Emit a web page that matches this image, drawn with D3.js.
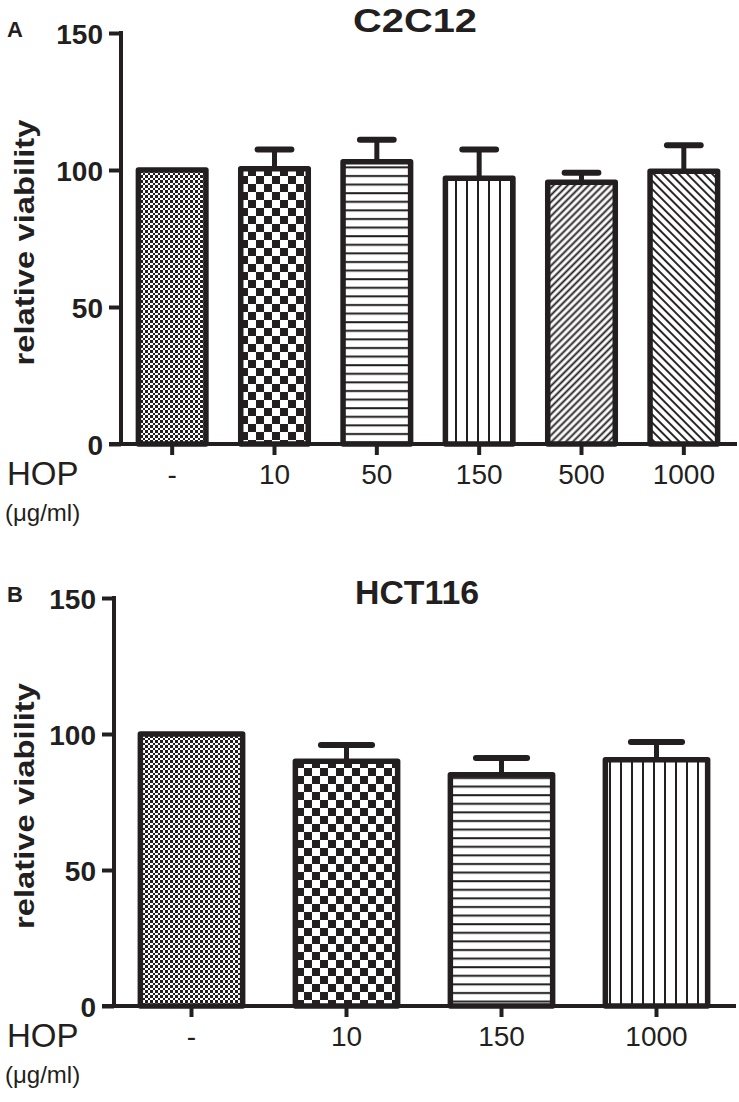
<!DOCTYPE html>
<html><head><meta charset="utf-8">
<script src="https://cdn.jsdelivr.net/npm/d3@7"></script>
<style>
html,body{margin:0;padding:0;background:#fff;}
text{font-family:"Liberation Sans", Arial, sans-serif; fill:#231f20;}
</style></head>
<body><svg id="c" width="739" height="1102"></svg>
<script>
// ---- data ----
const catsA = ["-", "10", "50", "150", "500", "1000"];
const meansA = [100, 100.5, 103, 97, 95.5, 99.5];
const errA = [0, 7, 8, 10.5, 3.5, 9.5];
const patA = ["fine", "coarse", "hlines", "vlines", "diagR", "diagL"];

const catsB = ["-", "10", "150", "1000"];
const meansB = [100, 90, 85, 90.5];
const errB = [0, 6, 6.2, 6.6];
const patB = ["fine", "coarse", "hlines", "vlines"];

const yTicks = [0, 50, 100, 150];
const ink = "#231f20";

const svg = d3.select("#c");
const defs = svg.append("defs");

function pat(id, w, h, draw, transform) {
  const p = defs.append("pattern").attr("id", id).attr("patternUnits", "userSpaceOnUse")
    .attr("width", w).attr("height", h);
  if (transform) p.attr("patternTransform", transform);
  p.append("rect").attr("width", w).attr("height", h).attr("fill", "#fff");
  draw(p);
}
pat("fine", 5, 5, p => {
  p.append("rect").attr("x", 0).attr("y", 0).attr("width", 2.5).attr("height", 2.5).attr("fill", ink).attr("shape-rendering", "crispEdges");
  p.append("rect").attr("x", 2.5).attr("y", 2.5).attr("width", 2.5).attr("height", 2.5).attr("fill", ink).attr("shape-rendering", "crispEdges");
});
pat("coarse", 16, 16, p => {
  p.append("rect").attr("x", 0).attr("y", 0).attr("width", 8).attr("height", 8).attr("fill", ink);
  p.append("rect").attr("x", 8).attr("y", 8).attr("width", 8).attr("height", 8).attr("fill", ink);
});
pat("hlines", 10, 8.6, p => {
  p.append("rect").attr("x", 0).attr("y", 3).attr("width", 10).attr("height", 2).attr("fill", ink);
});
pat("vlines", 11, 10, p => {
  p.append("rect").attr("x", 4).attr("y", 0).attr("width", 2).attr("height", 10).attr("fill", ink);
});
pat("diagR", 5, 10, p => {
  p.append("rect").attr("x", 1.5).attr("y", 0).attr("width", 1.9).attr("height", 10).attr("fill", ink);
}, "rotate(45)");
pat("diagL", 5.9, 10, p => {
  p.append("rect").attr("x", 2).attr("y", 0).attr("width", 1.9).attr("height", 10).attr("fill", ink);
}, "rotate(-45)");

function panel(cfg) {
  const g = svg.append("g");
  const x = d3.scaleBand().domain(cfg.cats).range([cfg.x0, cfg.x1]).paddingInner(0.34).paddingOuter(0.17);
  const y = d3.scaleLinear().domain([0, 150]).range([cfg.y0, cfg.y1]);

  // bars
  const bw = x.bandwidth();
  g.selectAll("rect.bar").data(cfg.cats).join("rect").attr("class", "bar")
    .attr("x", d => x(d)).attr("width", bw)
    .attr("y", (d, i) => y(cfg.means[i])).attr("height", (d, i) => y(0) - y(cfg.means[i]))
    .attr("fill", (d, i) => "url(#" + cfg.pats[i] + ")")
    .attr("stroke", ink).attr("stroke-width", 5.5).attr("stroke-linejoin", "round");

  // error bars
  const eb = cfg.cats.map((c, i) => ({c, m: cfg.means[i], e: cfg.errs[i]})).filter(d => d.e > 0);
  g.selectAll("line.stem").data(eb).join("line")
    .attr("x1", d => x(d.c) + bw / 2).attr("x2", d => x(d.c) + bw / 2)
    .attr("y1", d => y(d.m)).attr("y2", d => y(d.m + d.e))
    .attr("stroke", ink).attr("stroke-width", 5);
  g.selectAll("line.cap").data(eb).join("line")
    .attr("x1", d => x(d.c) + bw * 0.25).attr("x2", d => x(d.c) + bw * 0.75)
    .attr("y1", d => y(d.m + d.e)).attr("y2", d => y(d.m + d.e))
    .attr("stroke", ink).attr("stroke-width", 6).attr("stroke-linecap", "round");

  // y axis
  const ya = g.append("g").attr("transform", `translate(${cfg.x0},0)`)
    .call(d3.axisLeft(y).tickValues(yTicks).tickSize(12).tickSizeOuter(0).tickPadding(6));
  ya.select(".domain").remove();
  ya.selectAll(".tick line").attr("stroke", ink).attr("stroke-width", 4);
  ya.selectAll(".tick text").attr("font-size", 28).attr("font-weight", "bold")
    .attr("font-family", "Liberation Sans, Arial, sans-serif").attr("fill", ink).attr("dy", "0.36em");
  g.append("line").attr("x1", cfg.x0).attr("x2", cfg.x0).attr("y1", y(150) - 2).attr("y2", y(0))
    .attr("stroke", ink).attr("stroke-width", 4);

  // x axis
  const xa = g.append("g").attr("transform", `translate(0,${cfg.y0})`)
    .call(d3.axisBottom(x).tickSize(11).tickSizeOuter(0).tickPadding(9));
  xa.select(".domain").remove();
  xa.selectAll(".tick line").attr("stroke", ink).attr("stroke-width", 4);
  xa.selectAll(".tick text").attr("font-size", 28).attr("font-family", "Liberation Sans, Arial, sans-serif")
    .attr("fill", ink).attr("dy", "0.71em");
  g.append("line").attr("x1", cfg.x0 - 12).attr("x2", cfg.x1 + 2).attr("y1", cfg.y0).attr("y2", cfg.y0)
    .attr("stroke", ink).attr("stroke-width", 4);

  // labels
  g.append("text").attr("x", 7).attr("y", cfg.y1 + 4).attr("font-size", 22).attr("font-weight", "bold").text(cfg.letter);
  g.append("text").attr("x", cfg.titleX).attr("y", cfg.titleY).attr("text-anchor", "middle")
    .attr("font-size", 34).attr("font-weight", "bold")
    .attr("textLength", cfg.titleW).attr("lengthAdjust", "spacingAndGlyphs").text(cfg.title);
  const ly = (y(150) + y(0)) / 2 + 4;
  g.append("text").attr("transform", `translate(34,${ly}) rotate(-90)`).attr("text-anchor", "middle")
    .attr("font-size", 28).attr("font-weight", "bold")
    .attr("textLength", 246).attr("lengthAdjust", "spacingAndGlyphs").text("relative viability");
  g.append("text").attr("x", 7).attr("y", cfg.y0 + 41).attr("font-size", 33).text("HOP");
  g.append("text").attr("x", 5).attr("y", cfg.y0 + 77).attr("font-size", 24).text("(\u03bcg/ml)");
}

panel({cats: catsA, means: meansA, errs: errA, pats: patA, x0: 121, x1: 735, y0: 444, y1: 33,
       letter: "A", title: "C2C12", titleX: 415, titleY: 32, titleW: 124});
panel({cats: catsB, means: meansB, errs: errB, pats: patB, x0: 114, x1: 734, y0: 1006, y1: 598,
       letter: "B", title: "HCT116", titleX: 417, titleY: 604, titleW: 124});
</script></body></html>
